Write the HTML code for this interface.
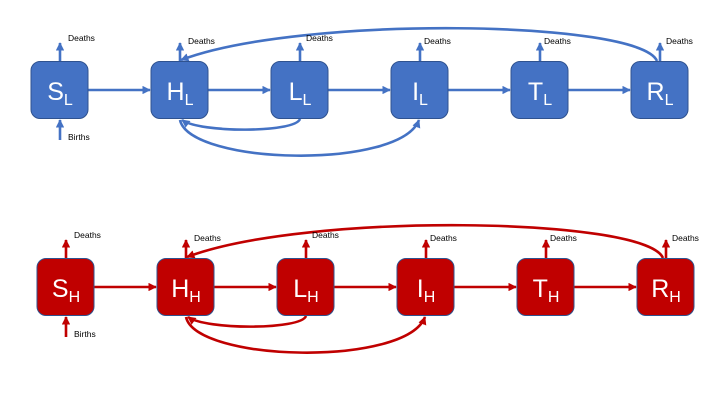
<!DOCTYPE html>
<html><head><meta charset="utf-8"><style>
html,body{margin:0;padding:0;background:#fff;}
svg{display:block;font-family:"Liberation Sans",sans-serif;}
</style></head><body>
<svg width="720" height="405" viewBox="0 0 720 405" xmlns="http://www.w3.org/2000/svg">
<defs>
<marker id="ab" viewBox="0 0 10 10" refX="9" refY="5" markerWidth="3.2" markerHeight="3.2" orient="auto"><path d="M0,0L10,5L0,10z" fill="#4472C4"/></marker>
<marker id="ar" viewBox="0 0 10 10" refX="9" refY="5" markerWidth="3.2" markerHeight="3.2" orient="auto"><path d="M0,0L10,5L0,10z" fill="#C00000"/></marker>
</defs>
<!-- BLUE ROW -->
<g stroke="#4472C4" stroke-width="2.6" fill="none" marker-end="url(#ab)">
<line x1="88" y1="90" x2="150" y2="90"/>
<line x1="208" y1="90" x2="270" y2="90"/>
<line x1="328" y1="90" x2="390" y2="90"/>
<line x1="448" y1="90" x2="510" y2="90"/>
<line x1="568" y1="90" x2="630" y2="90"/>
<line x1="60" y1="61" x2="60" y2="43"/>
<line x1="180" y1="61" x2="180" y2="43"/>
<line x1="300" y1="61" x2="300" y2="43"/>
<line x1="420" y1="61" x2="420" y2="43"/>
<line x1="540" y1="61" x2="540" y2="43"/>
<line x1="660" y1="61" x2="660" y2="43"/>
<line x1="60" y1="140" x2="60" y2="120"/>
<path d="M657,61 C640,20 300,15 181,60"/>
<path d="M300,119 C295,133 200,133 182,120"/>
<path d="M180,120 C190,165 400,170 419,120"/>
</g>
<g fill="#4472C4" stroke="#2F528F" stroke-width="1">
<rect x="31" y="61.5" width="57" height="57" rx="9"/>
<rect x="151" y="61.5" width="57" height="57" rx="9"/>
<rect x="271" y="61.5" width="57" height="57" rx="9"/>
<rect x="391" y="61.5" width="57" height="57" rx="9"/>
<rect x="511" y="61.5" width="57" height="57" rx="9"/>
<rect x="631" y="61.5" width="57" height="57" rx="9"/>
</g>
<g fill="#fff" font-size="25" text-anchor="middle">
<text x="60" y="100">S<tspan font-size="16" dy="5">L</tspan></text>
<text x="180" y="100">H<tspan font-size="16" dy="5">L</tspan></text>
<text x="300" y="100">L<tspan font-size="16" dy="5">L</tspan></text>
<text x="420" y="100">I<tspan font-size="16" dy="5">L</tspan></text>
<text x="540" y="100">T<tspan font-size="16" dy="5">L</tspan></text>
<text x="660" y="100">R<tspan font-size="16" dy="5">L</tspan></text>
</g>
<g fill="#000" font-size="8.5">
<text x="68" y="41">Deaths</text>
<text x="188" y="44">Deaths</text>
<text x="306" y="41">Deaths</text>
<text x="424" y="44">Deaths</text>
<text x="544" y="44">Deaths</text>
<text x="666" y="44">Deaths</text>
<text x="68" y="140">Births</text>
</g>
<!-- RED ROW -->
<g transform="translate(6,197)">
<g stroke="#C00000" stroke-width="2.6" fill="none" marker-end="url(#ar)">
<line x1="88" y1="90" x2="150" y2="90"/>
<line x1="208" y1="90" x2="270" y2="90"/>
<line x1="328" y1="90" x2="390" y2="90"/>
<line x1="448" y1="90" x2="510" y2="90"/>
<line x1="568" y1="90" x2="630" y2="90"/>
<line x1="60" y1="61" x2="60" y2="43"/>
<line x1="180" y1="61" x2="180" y2="43"/>
<line x1="300" y1="61" x2="300" y2="43"/>
<line x1="420" y1="61" x2="420" y2="43"/>
<line x1="540" y1="61" x2="540" y2="43"/>
<line x1="660" y1="61" x2="660" y2="43"/>
<line x1="60" y1="140" x2="60" y2="120"/>
<path d="M657,61 C640,20 300,15 181,60"/>
<path d="M300,119 C295,133 200,133 182,120"/>
<path d="M180,120 C190,165 400,170 419,120"/>
</g>
<g fill="#C00000" stroke="#2F528F" stroke-width="1">
<rect x="31" y="61.5" width="57" height="57" rx="9"/>
<rect x="151" y="61.5" width="57" height="57" rx="9"/>
<rect x="271" y="61.5" width="57" height="57" rx="9"/>
<rect x="391" y="61.5" width="57" height="57" rx="9"/>
<rect x="511" y="61.5" width="57" height="57" rx="9"/>
<rect x="631" y="61.5" width="57" height="57" rx="9"/>
</g>
<g fill="#fff" font-size="25" text-anchor="middle">
<text x="60" y="100">S<tspan font-size="16" dy="5">H</tspan></text>
<text x="180" y="100">H<tspan font-size="16" dy="5">H</tspan></text>
<text x="300" y="100">L<tspan font-size="16" dy="5">H</tspan></text>
<text x="420" y="100">I<tspan font-size="16" dy="5">H</tspan></text>
<text x="540" y="100">T<tspan font-size="16" dy="5">H</tspan></text>
<text x="660" y="100">R<tspan font-size="16" dy="5">H</tspan></text>
</g>
<g fill="#000" font-size="8.5">
<text x="68" y="41">Deaths</text>
<text x="188" y="44">Deaths</text>
<text x="306" y="41">Deaths</text>
<text x="424" y="44">Deaths</text>
<text x="544" y="44">Deaths</text>
<text x="666" y="44">Deaths</text>
<text x="68" y="140">Births</text>
</g>
</g>
</svg>
</body></html>
